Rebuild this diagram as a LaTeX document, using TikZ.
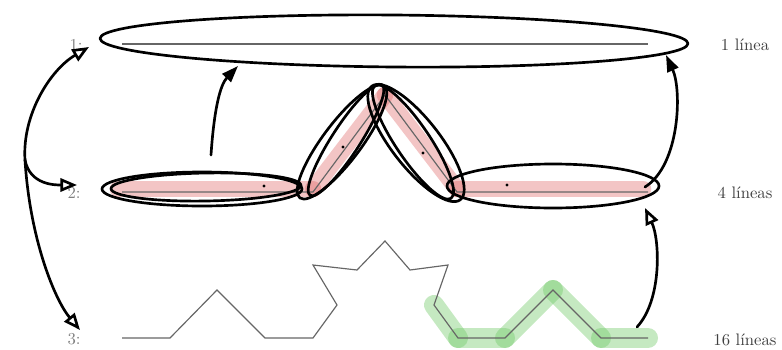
\documentclass[tikz,border=0pt]{standalone}
\usepackage{tikz}
\usetikzlibrary{arrows.meta}
\definecolor{marcarojo}{RGB}{220,90,90}
\definecolor{marcaverde}{RGB}{110,200,100}
\tikzset{
  koch/.style={draw=black!60, line width=0.7pt, line join=miter},
  pen/.style={draw=black, line width=1.6pt, line cap=round, line join=round},
  inkarrow/.style={pen, -{Triangle[open, length=10pt, width=8pt]}},
  inkfill/.style={pen, -{Triangle[length=10pt, width=7pt]}},
  redmark/.style={draw=marcarojo, line width=10pt, line cap=round, opacity=0.35},
  greenmark/.style={draw=marcaverde, line width=12pt, line cap=round, opacity=0.4},
  level/.style={text=black!50},
  count/.style={text=black!75}
}
\begin{document}
\begin{tikzpicture}[x=0.6pt, y=-0.6pt]
\useasboundingbox (0,0) rectangle (782,349);

% highlights
\draw[redmark] (118,189) -- (313,189);
\draw[redmark] (313,189) -- (385,95);
\draw[redmark] (385,95) -- (457,189);
\draw[redmark] (457,189) -- (643,189);
\draw[greenmark] (434,305) -- (458,338);
\draw[greenmark] (458,338) -- (505,338);
\draw[greenmark] (505,338) -- (553,290);
\draw[greenmark] (553,290) -- (601,338);
\draw[greenmark] (601,338) -- (648,338);

% curves
\draw[koch] (122,44) -- (648,44);
\draw[koch] (122,192) -- (313,192) -- (385,95) -- (457,192) -- (648,192);
\draw[koch] (122,338) -- (170,338) -- (217,290) -- (265,338) -- (313,338)
  -- (337,305) -- (313,265) -- (357,270) -- (385,241)
  -- (410,270) -- (448,265) -- (434,305) -- (458,338)
  -- (505,338) -- (553,290) -- (601,338) -- (648,338);

% labels
\node[level] (n1) at (76,45) {1:};
\node[level] (n2) at (74,193) {2:};
\node[level] (n3) at (74,339) {3:};
\node[count] (c1) at (745,45) {1 línea};
\node[count] (c2) at (745,193) {4 líneas};
\node[count] (c3) at (745,340) {16 líneas};

% hand drawn loops
\draw[pen, rotate around={-0.5:(394,41)}] (394,41) ellipse (294 and 26);
\draw[pen] (202,189) ellipse (100 and 17);
\draw[pen, rotate around={1:(206,187)}] (206,187) ellipse (95 and 14);
\draw[pen, rotate around={53:(342,142)}] (342,142) ellipse (70 and 19);
\draw[pen, rotate around={57:(346,140)}] (346,140) ellipse (66 and 14);
\draw[pen, rotate around={-52:(416,143)}] (416,143) ellipse (72 and 24);
\draw[pen, rotate around={-56:(413,142)}] (413,142) ellipse (68 and 17);
\draw[pen] (553,186) ellipse (106 and 22);

% dots
\fill (264,186) circle (1.6);
\fill (343,147) circle (1.6);
\fill (423,153) circle (1.6);
\fill (507,185) circle (1.6);

% arrows
\coordinate (a1s) at (211,155);
\coordinate (a1e) at (238,66);
\coordinate (r1s) at (645,187);
\coordinate (r1e) at (666,55);
\coordinate (r2s) at (637,327);
\coordinate (r2e) at (645,208);
\coordinate (lc) at (25,160);
\coordinate (t1) at (89,47);
\coordinate (t2) at (77,185);
\coordinate (t3) at (80,330);

\draw[inkfill] (a1s) .. controls (214,110) and (220,85) .. (a1e);
\draw[inkfill] (r1s) .. controls (680,165) and (682,90) .. (r1e);
\draw[inkarrow] (r2s) .. controls (662,300) and (660,240) .. (r2e);
\draw[inkarrow] (lc) .. controls (22,115) and (50,70) .. (t1);
\draw[inkarrow] (lc) .. controls (30,185) and (55,185) .. (t2);
\draw[inkarrow] (lc) .. controls (30,240) and (55,300) .. (t3);
\end{tikzpicture}
\end{document}
